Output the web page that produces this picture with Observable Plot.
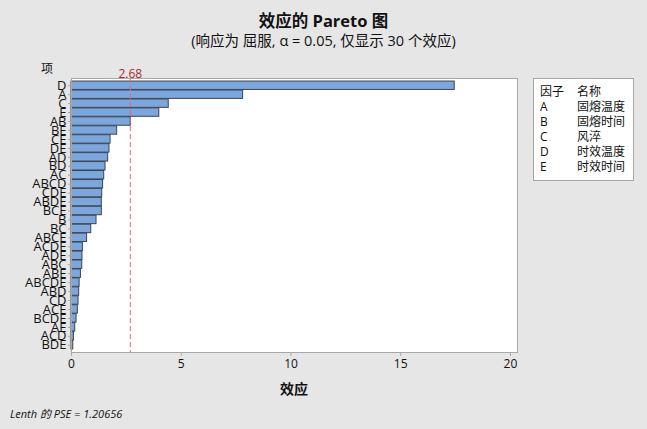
<!DOCTYPE html>
<html><head><meta charset="utf-8">
<script src="https://cdn.jsdelivr.net/npm/d3@7"></script>
<script src="https://cdn.jsdelivr.net/npm/@observablehq/plot@0.6"></script>
<style>
html,body{margin:0;padding:0;background:#e6e6e6;}
#wrap{position:relative;width:647px;height:429px;overflow:hidden;font-family:"Open Sans","Noto Sans CJK SC",sans-serif;color:#111;}
#chart{position:absolute;left:0;top:0;}
.abs{position:absolute;white-space:nowrap;}
#title{left:0;width:647px;top:8px;text-align:center;font-size:16.5px;font-weight:bold;}
#subtitle{left:0;width:647px;top:29px;text-align:center;font-size:14.5px;}
#xiang{left:41px;top:59px;font-size:12px;}
#xlabel{left:71px;width:446px;top:378px;text-align:center;font-size:14px;font-weight:bold;}
#foot{left:10px;top:405px;font-size:11px;font-style:italic;}
#legend{left:533px;top:78px;width:101px;height:103px;background:#fff;border:1px solid #a8a8a8;box-sizing:border-box;font-size:12px;}
#legend table{border-collapse:collapse;margin:5px 0 0 6px;}
#legend td{padding:0;line-height:15px;vertical-align:middle;}
#legend td.c1{width:37px;}
</style></head>
<body><div id="wrap">
<div id="chart"></div>
<div class="abs" id="title">效应的 Pareto 图</div>
<div class="abs" id="subtitle">(响应为 屈服, α = 0.05, 仅显示 30 个效应)</div>
<div class="abs" id="xiang">项</div>
<div class="abs" id="xlabel">效应</div>
<div class="abs" id="foot">Lenth 的 PSE = 1.20656</div>
<div class="abs" id="legend"></div>
</div>
<script>
const terms = ["D","A","C","E","AB","BE","CE","DE","AD","BD","AC","ABCD","CDE","ABDE","BCE","B","BC","ABCE","ACDE","ADE","ABC","ABE","ABCDE","ABD","CD","ACE","BCDE","AE","ACD","BDE"];
const effects = [17.46,7.82,4.43,4.0,2.7,2.08,1.78,1.73,1.67,1.55,1.49,1.44,1.40,1.38,1.38,1.14,0.90,0.71,0.52,0.50,0.49,0.43,0.37,0.35,0.32,0.29,0.23,0.17,0.11,0.08];
const critical = [2.68];
const xTicks = [0,5,10,15,20];
const factorCodes = ["A","B","C","D","E"];
const factorNames = ["固熔温度","固熔时间","风淬","时效温度","时效时间"];

const data = terms.map((t,i)=>({term:t, effect:effects[i]}));

const plot = Plot.plot({
  width: 647, height: 429,
  marginLeft: 71, marginRight: 130, marginTop: 78, marginBottom: 77,
  style: {background:"transparent", fontFamily:"'Open Sans','Noto Sans CJK SC',sans-serif", fontSize:"12px", color:"#111", overflow:"visible"},
  x: {domain:[0,20.32], ticks: xTicks, label:null},
  y: {domain: terms, padding: 0.06, round:false, insetTop: 2.5, insetBottom: 2.5, label:null},
  marks: [
    Plot.frame({fill:"white", stroke:"none"}),
    Plot.barX(data, {y:"term", x:"effect", fill:"#7ba7dc", stroke:"#3e4350", strokeWidth:1}),
    Plot.ruleX(critical, {stroke:"#e06a6a", strokeDasharray:"5,3", strokeWidth:1}),
    Plot.text(critical, {x:d=>d, text:d=>d.toFixed(2), frameAnchor:"top", dy:-9, fill:"#a62a2a", fontSize:12}),
    Plot.frame({stroke:"#a8a8a8", strokeWidth:1}),
    Plot.axisX({ticks:xTicks, tickSize:4, tickPadding:3, stroke:"#a8a8a8", fontSize:12, label:null}),
    Plot.axisY({tickSize:3, tickPadding:2, stroke:"#a8a8a8", fontSize:13, label:null})
  ]
});
document.getElementById("chart").appendChild(plot);
plot.querySelectorAll('g[aria-label="x-axis tick label"] text, g[aria-label="y-axis tick label"] text').forEach(t=>t.setAttribute("fill","#111"));

const leg = document.getElementById("legend");
let html = '<table><tr><td class="c1">因子</td><td>名称</td></tr>';
factorCodes.forEach((c,i)=>{ html += `<tr><td class="c1">${c}</td><td>${factorNames[i]}</td></tr>`; });
html += '</table>';
leg.innerHTML = html;
</script>
</body></html>
